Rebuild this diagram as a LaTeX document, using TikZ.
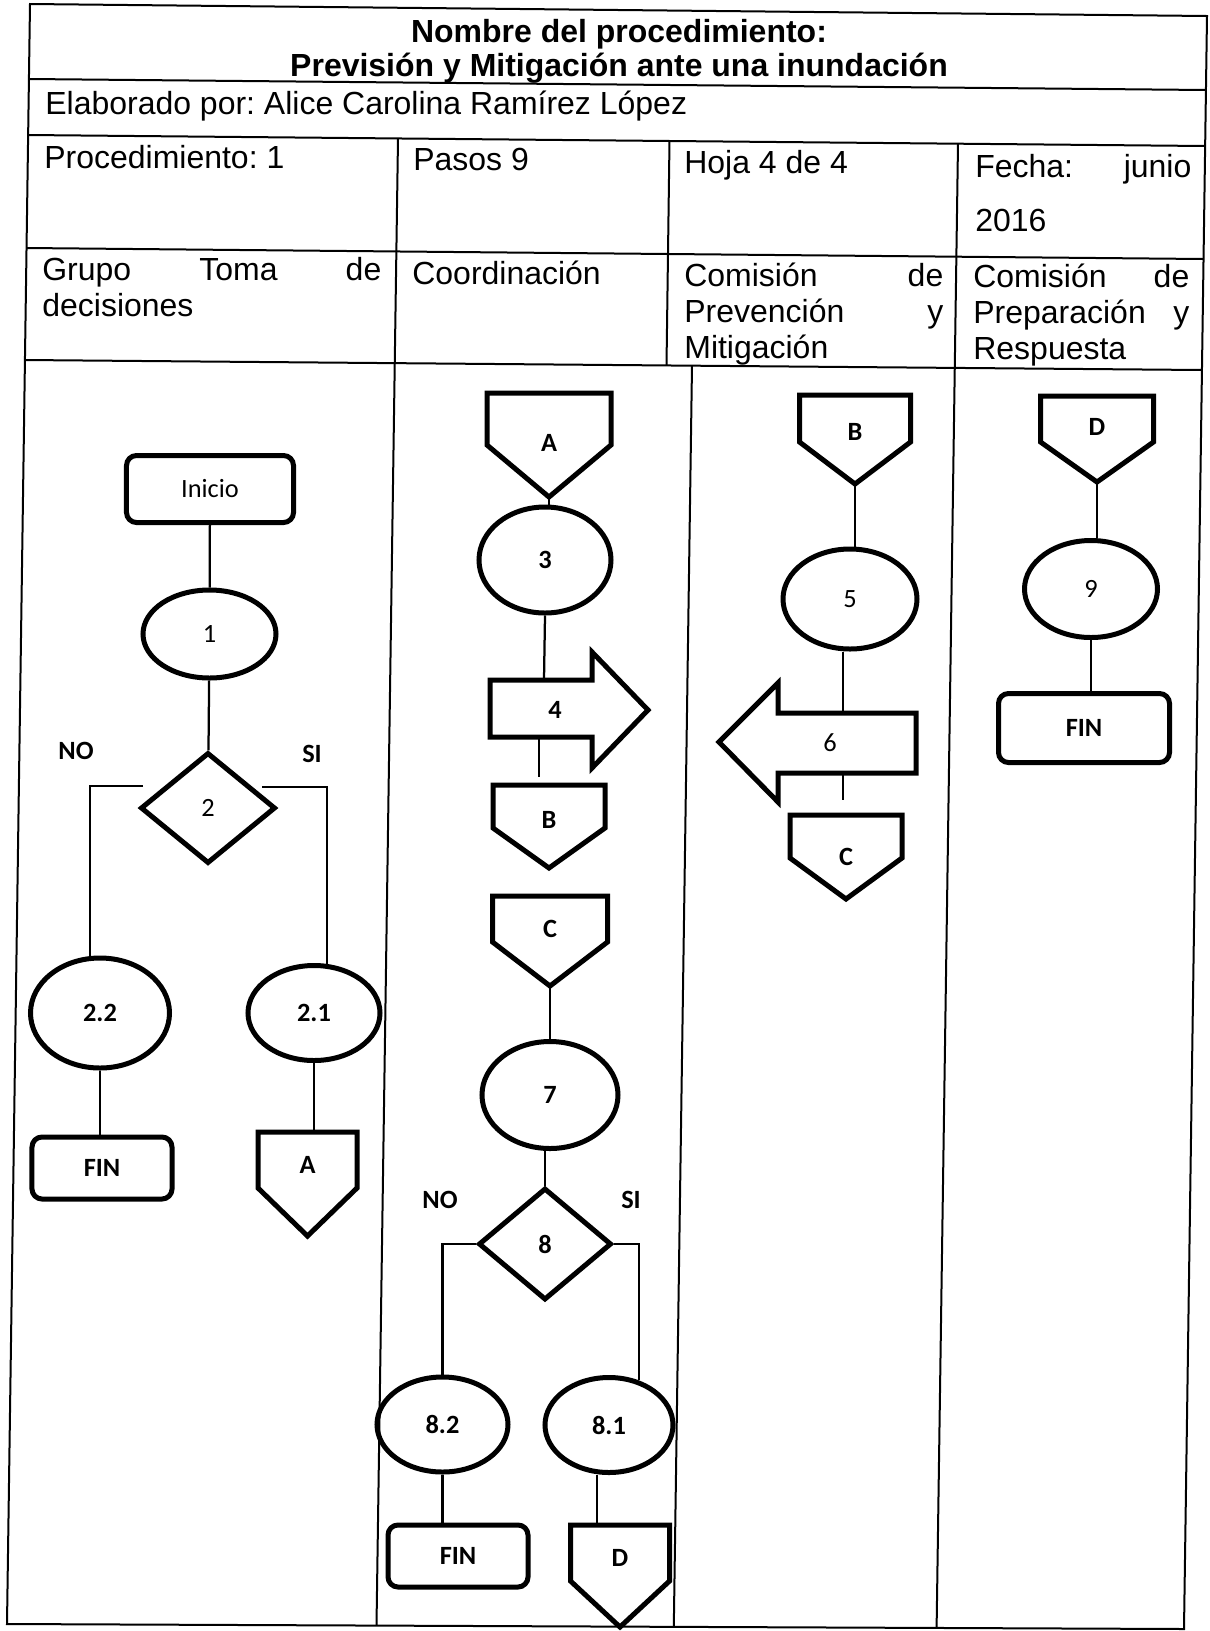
\documentclass[tikz,border=0pt]{standalone}
\usepackage{fontspec}
\setmainfont{Liberation Sans}
\newfontfamily\calibri{Carlito}
\usetikzlibrary{shapes.geometric,calc}
\frenchspacing

% conector de pagina: nombre, x, arriba, ancho, alto caja, alto punta, dy etiqueta, texto
\newcommand{\conector}[8]{%
	\draw[forma] (#2-#4/2,#3) -- (#2+#4/2,#3) -- (#2+#4/2,#3+#5) -- (#2,#3+#5+#6) -- (#2-#4/2,#3+#5) -- cycle;
	\node[etiqueta] (#1) at (#2,#3+#7) {#8};
	\coordinate (#1-top) at (#2,#3);
	\coordinate (#1-tip) at (#2,#3+#5+#6);
}
\newcommand{\justo}[2]{\makebox[#1][s]{#2}}

\begin{document}
\begin{tikzpicture}[x=0.2mm, y=-0.2mm,
	tabla/.style={line width=0.4mm},
	linea/.style={line width=0.45mm},
	forma/.style={line width=1mm},
	texto/.style={anchor=base west, inner sep=0pt, font=\fontsize{18.2}{20}\selectfont},
	titulo/.style={anchor=base, inner sep=0pt, font=\bfseries\fontsize{18.2}{20}\selectfont},
	etiqueta/.style={inner sep=0pt, font=\calibri\bfseries\fontsize{15}{15}\selectfont},
	fino/.style={font=\calibri\fontsize{15}{15}\selectfont},
	paso/.style={ellipse, draw, line width=1mm, minimum width=26.6mm, minimum height=20mm, inner sep=0pt, font=\calibri\bfseries\fontsize{15}{15}\selectfont},
	termino/.style={rectangle, rounded corners=2mm, draw, line width=1mm, inner sep=0pt, font=\calibri\bfseries\fontsize{15}{15}\selectfont},
	decision/.style={diamond, draw, line width=1mm, inner sep=0pt, font=\calibri\fontsize{15}{15}\selectfont}]
	\path[use as bounding box, fill=white] (0,0) rectangle (1209,1631);

	% tabla
	\draw[tabla] (30,4) -- (1207,16) -- (1184,1629) -- (7,1624) -- cycle;
	\draw[tabla] (28.9,79) -- (1205.9,90);
	\draw[tabla] (28.1,135) -- (1205.1,146);
	\draw[tabla] (26.5,248) -- (1203.5,259);
	\draw[tabla] (24.9,360) -- (1201.9,370);
	\draw[tabla] (398,138.5) -- (376.5,1625.6);
	\draw[tabla] (669.5,141) -- (666.5,365.5);
	\draw[tabla] (692,365.7) -- (673.8,1626.8);
	\draw[tabla] (958,143.7) -- (936.6,1628);

	\node[titulo] (tit1) at (619,42) {Nombre del procedimiento:};
	\node[titulo] (tit2) at (619,76) {Previsión y Mitigación ante una inundación};
	\node[texto] (elab) at (45,114) {Elaborado por: Alice Carolina Ramírez López};
	\node[texto] (proc) at (44,168) {Procedimiento: 1};
	\node[texto] (pasos) at (413,170) {Pasos 9};
	\node[texto] (hoja) at (684,173) {Hoja 4 de 4};
	\node[texto] (fecha) at (975,177) {\justo{43.2mm}{Fecha: junio}};
	\node[texto] (anio) at (975,231) {2016};
	\node[texto] (grupo1) at (42,280) {\justo{67.8mm}{Grupo Toma de}};
	\node[texto] (grupo2) at (42,316) {decisiones};
	\node[texto] (coord) at (412,284) {Coordinación};
	\node[texto] (prev1) at (684,286) {\justo{51.8mm}{Comisión de}};
	\node[texto] (prev2) at (684,322) {\justo{51.8mm}{Prevención y}};
	\node[texto] (prev3) at (684,358) {Mitigación};
	\node[texto] (prep1) at (973,287) {\justo{43.2mm}{Comisión de}};
	\node[texto] (prep2) at (973,323) {\justo{43.2mm}{Preparación y}};
	\node[texto] (prep3) at (973,359) {Respuesta};

	% Grupo Toma de decisiones
	\node[termino, fino, minimum width=33.4mm, minimum height=13.4mm] (inicio) at (210,489) {Inicio};
	\node[paso, fino, minimum height=17.6mm] (p1) at (209.5,634) {1};
	\node[decision, minimum width=27mm, minimum height=22.2mm] (d2) at (208,808) {2};
	\node[etiqueta] (no2) at (76,751) {NO};
	\node[etiqueta] (si2) at (312,754) {SI};
	\node[paso, minimum width=27.8mm, minimum height=22mm] (p22) at (100,1013) {2.2};
	\node[paso, minimum width=26.4mm, minimum height=19mm] (p21) at (314,1013) {2.1};
	\node[termino, minimum width=28mm, minimum height=12.4mm] (fin1) at (102,1168) {FIN};
	\conector{cA2}{307.5}{1132}{99}{56}{48}{33}{A}

	% Coordinacion
	\conector{cA1}{549}{393}{124}{52}{52}{50}{A}
	\node[paso, minimum width=26.4mm, minimum height=21.2mm] (p3) at (545,560) {3};
	\draw[forma] (490,680) -- (592,680) -- (592,652) -- (648,710) -- (592,768) -- (592,737) -- (490,737) -- cycle;
	\node[etiqueta] (p4) at (555,710) {4};
	\coordinate (p4-top) at (544,680);
	\coordinate (p4-bot) at (539,737);
	\conector{cB1}{549}{785}{112}{43}{40}{35}{B}
	\conector{cC1}{550}{896}{115}{46}{44}{33}{C}
	\node[paso, minimum width=27.2mm, minimum height=21.4mm] (p7) at (550,1095) {7};
	\node[decision, font=\calibri\bfseries\fontsize{15}{15}\selectfont, minimum width=26.6mm, minimum height=22.4mm] (d8) at (545,1244) {8};
	\node[etiqueta] (no8) at (440,1200) {NO};
	\node[etiqueta] (si8) at (631,1200) {SI};
	\node[paso, minimum width=26.2mm, minimum height=19mm] (p82) at (442.5,1424.5) {8.2};
	\node[paso, minimum width=25.6mm, minimum height=19mm] (p81) at (609,1425) {8.1};
	\node[termino, minimum width=28mm, minimum height=12.4mm] (fin2) at (458,1556) {FIN};
	\conector{cD2}{620}{1525}{99}{56}{46}{33}{D}

	% Comision de Prevencion y Mitigacion
	\conector{cB2}{855}{395}{111}{47}{42}{37}{B}
	\node[paso, fino, minimum width=26.8mm] (p5) at (850,599) {5};
	\draw[forma] (916,713) -- (778,713) -- (778,683) -- (719,742) -- (778,802) -- (778,773) -- (916,773) -- cycle;
	\node[etiqueta, fino] (p6) at (830,743) {6};
	\coordinate (p6-top) at (843,713);
	\coordinate (p6-bot) at (843,773);
	\conector{cC2}{846}{815}{112}{43}{41}{42}{C}

	% Comision de Preparacion y Respuesta
	\conector{cD1}{1097}{396}{113}{46}{40}{31}{D}
	\node[paso, fino, minimum height=19.4mm] (p9) at (1091,589) {9};
	\node[termino, minimum width=34.2mm, minimum height=13.8mm] (fin3) at (1084,728) {FIN};

	% lineas
	\coordinate (d2no) at (143,786);
	\coordinate (d2si) at (262,787);
	\draw[linea] (inicio) -- (p1);
	\draw[linea] (p1) -- (d2);
	\draw[linea] (d2no) -| (p22.100);
	\draw[linea] (d2si) -| (p21.75);
	\draw[linea] (p22.south) -- (p22.south |- fin1.north);
	\draw[linea] (p21.south) -- (p21.south |- cA2-top);
	\draw[linea] (cA1-tip) -- (cA1-tip |- p3.north);
	\draw[linea] (p3.south) -- (p4-top);
	\draw[linea, shorten >=1.6mm] (p4-bot) -- (p4-bot |- cB1-top);
	\draw[linea] (cC1-tip) -- (cC1-tip |- p7.north);
	\draw[linea] (d8.north |- p7.south) -- (d8.north);
	\draw[linea] (d8.west) -| (p82.north);
	\draw[linea] (d8.east) -| (p81.56);
	\draw[linea] (p82.south) -- (p82.south |- fin2.north);
	\draw[linea] ($(p81.south)+(-12,0)$) coordinate (p81-out) -- (p81-out |- cD2-top);
	\draw[linea] (cB2-tip) -- (cB2-tip |- p5.north);
	\draw[linea] (p6-top |- p5.south) -- (p6-top);
	\draw[linea, shorten >=3mm] (p6-bot) -- (p6-bot |- cC2-top);
	\draw[linea] (cD1-tip) -- (cD1-tip |- p9.north);
	\draw[linea] (p9.south) -- (p9.south |- fin3.north);
\end{tikzpicture}
\end{document}
